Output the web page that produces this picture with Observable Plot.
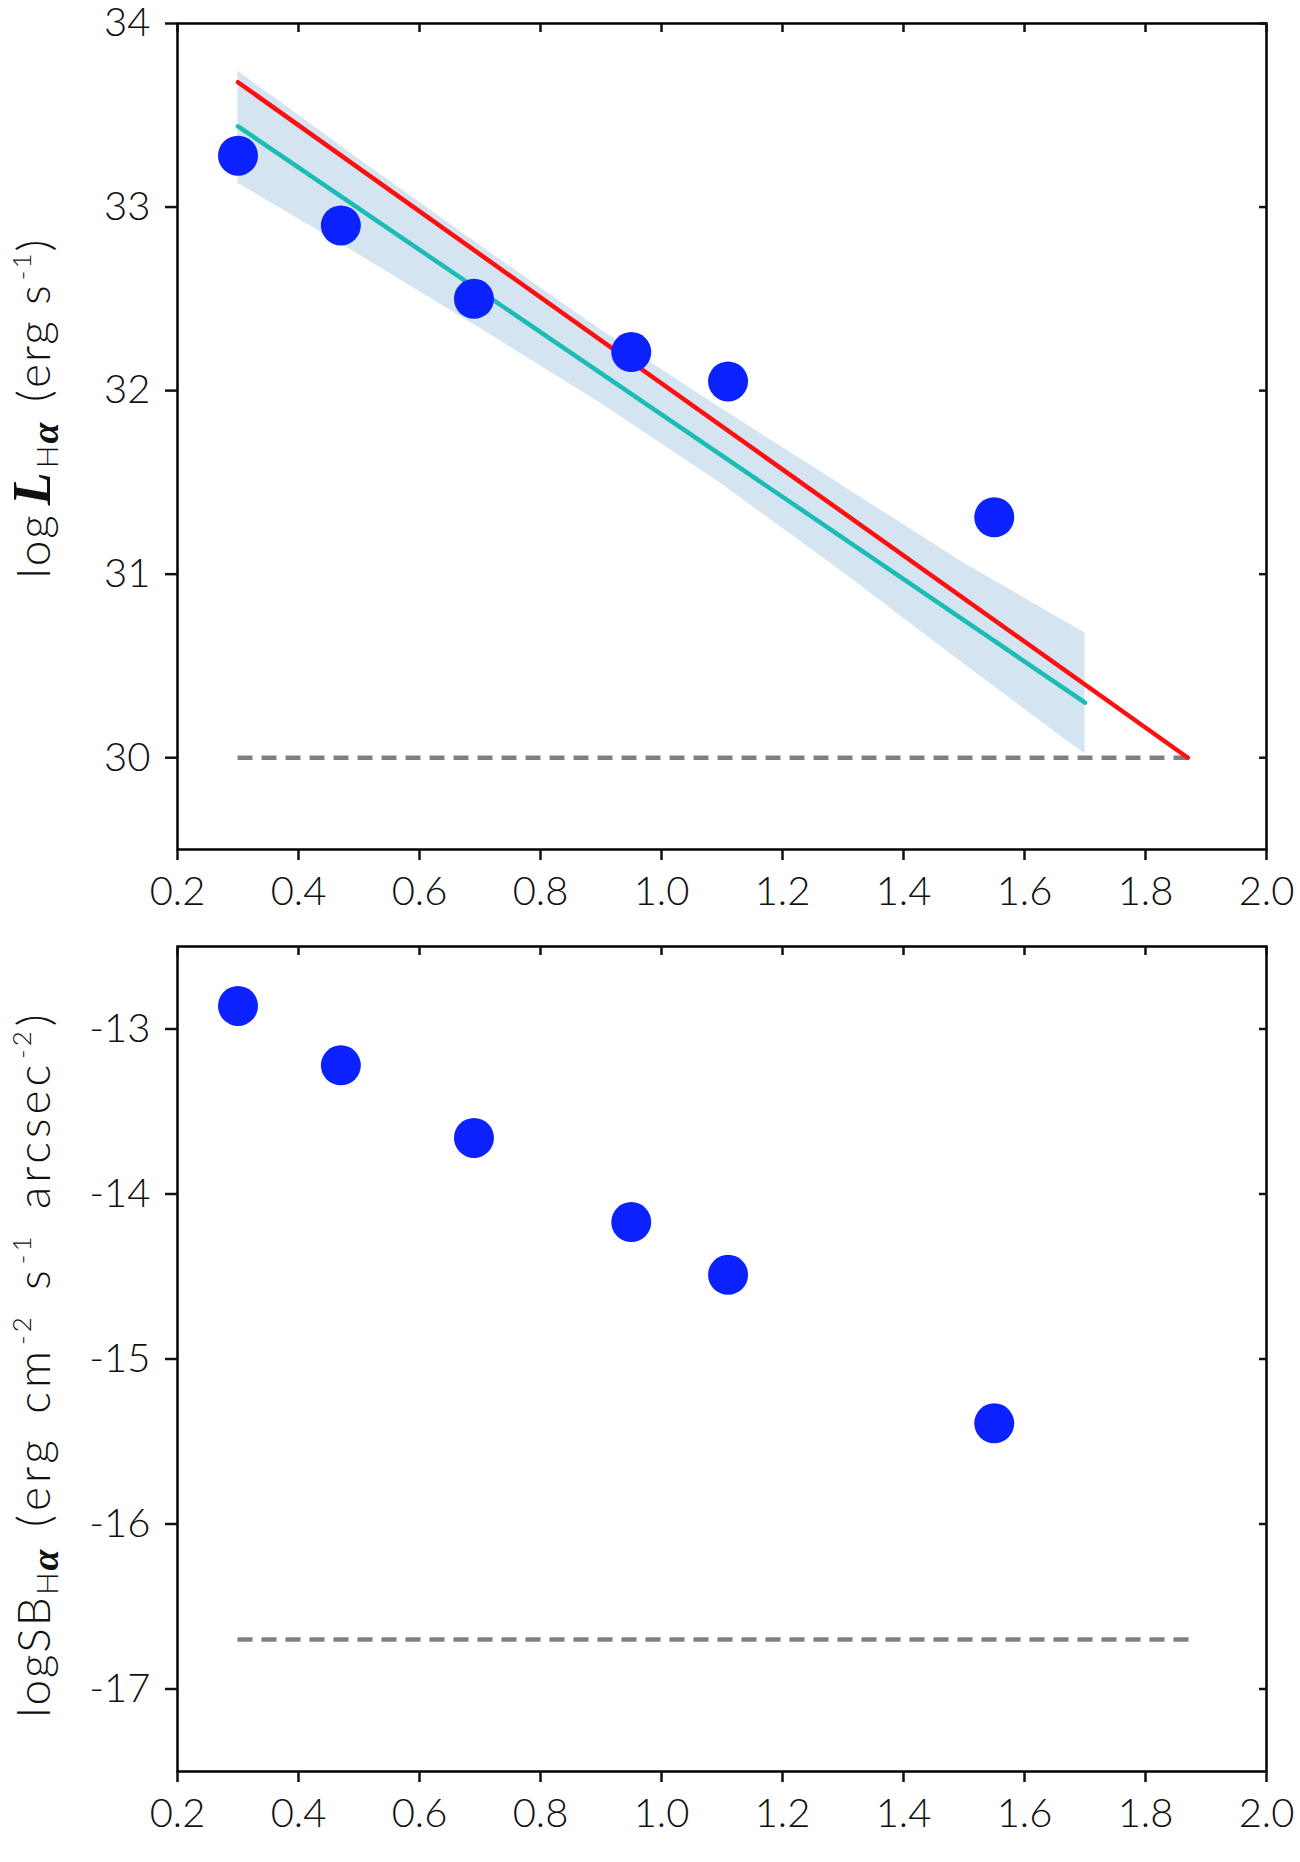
<!DOCTYPE html>
<html><head><meta charset="utf-8">
<script src="https://cdn.jsdelivr.net/npm/d3@7"></script>
<script src="https://cdn.jsdelivr.net/npm/@observablehq/plot@0.6"></script>
<style>
html,body{margin:0;padding:0;background:#fff;}
#fig{width:1300px;}
#fig svg{display:block;}
</style></head><body><div id="fig"></div>
<script>
// ---- data ----
const sepX = [0.30, 0.47, 0.69, 0.95, 1.11, 1.55];
const logL = [33.28, 32.90, 32.50, 32.21, 32.05, 31.31];
const logSB = [-12.86, -13.22, -13.66, -14.17, -14.49, -15.39];
const redX = [0.30, 1.87];
const redY = [33.68, 30.00];
const cyanX = [0.30, 1.70];
const cyanY = [33.44, 30.30];
const bandX = [0.30, 0.50, 0.70, 0.90, 1.10, 1.30, 1.50, 1.70];
const bandHi = [33.74, 33.26, 32.79, 32.33, 31.90, 31.48, 31.06, 30.68];
const bandLo = [33.13, 32.74, 32.34, 31.93, 31.49, 31.01, 30.51, 30.02];
const limitX = [0.30, 1.88];
const limitL = 30.0;
const limitSB = -16.70;
const xTicks = [0.2, 0.4, 0.6, 0.8, 1.0, 1.2, 1.4, 1.6, 1.8, 2.0];
const yTicksL = [30, 31, 32, 33, 34];
const yTicksSB = [-17, -16, -15, -14, -13];

const FONT = "Lato, 'Open Sans', sans-serif";
const MATH = "'Liberation Serif', 'DejaVu Serif', serif";
const INK = "#111";

const pts = (ys) => sepX.map((x, i) => ({x, y: ys[i]}));
const seg = (xs, ys) => xs.map((x, i) => ({x, y: ys[i]}));
const band = bandX.map((x, i) => ({x, lo: bandLo[i], hi: bandHi[i]}));

function frameMarks(yTicks) {
  return [
    Plot.frame({stroke: "black", strokeWidth: 2.5}),
    Plot.axisX(xTicks, {anchor: "bottom", tickSize: 11, tickPadding: 16, strokeWidth: 2.5,
      tickFormat: d => d.toFixed(1), fontSize: 40, fontWeight: 300, fill: INK, label: null}),
    Plot.axisX(xTicks, {anchor: "top", tickSize: -8, strokeWidth: 2.5, tickFormat: () => "", label: null}),
    Plot.axisY(yTicks, {anchor: "left", tickSize: 12, tickPadding: 15, strokeWidth: 2.5,
      tickFormat: d => String(d), fontSize: 40, fontWeight: 300, fill: INK, label: null}),
    Plot.axisY(yTicks, {anchor: "right", tickSize: -8, strokeWidth: 2.5, tickFormat: () => "", label: null})
  ];
}

function panel({height, marginTop, marginBottom, yDomain, yTicks, marks}) {
  return Plot.plot({
    width: 1300, height, marginLeft: 177, marginRight: 34, marginTop, marginBottom,
    style: {fontFamily: FONT, fontSize: "40px", fontWeight: 300, color: INK, background: "white", overflow: "visible"},
    x: {domain: [0.2, 2.0]},
    y: {domain: yDomain},
    marks: [...marks, ...frameMarks(yTicks)]
  });
}

const dash = {stroke: "#808080", strokeWidth: 4.5, strokeDasharray: "15,9"};

const topPanel = panel({
  height: 930, marginTop: 23, marginBottom: 81, yDomain: [29.5, 34], yTicks: yTicksL,
  marks: [
    Plot.areaY(band, {x: "x", y1: "lo", y2: "hi", fill: "#d4e4f1"}),
    Plot.ruleY([limitL], {x1: limitX[0], x2: limitX[1], ...dash}),
    Plot.line(seg(cyanX, cyanY), {x: "x", y: "y", stroke: "#1bbcb5", strokeWidth: 4.5}),
    Plot.line(seg(redX, redY), {x: "x", y: "y", stroke: "#ff1010", strokeWidth: 4.5}),
    Plot.dot(pts(logL), {x: "x", y: "y", r: 20, fill: "#0b22ff", stroke: null})
  ]
});

const bottomPanel = panel({
  height: 932, marginTop: 16, marginBottom: 91, yDomain: [-17.5, -12.5], yTicks: yTicksSB,
  marks: [
    Plot.ruleY([limitSB], {x1: limitX[0], x2: limitX[1], ...dash}),
    Plot.dot(pts(logSB), {x: "x", y: "y", r: 20, fill: "#0b22ff", stroke: null})
  ]
});

function addYLabel(svg, cy, spacing, parts) {
  const t = d3.select(svg).append("text")
    .attr("transform", `translate(50,${cy}) rotate(-90)`)
    .attr("text-anchor", "middle")
    .attr("fill", INK)
    .style("font-family", FONT)
    .style("font-weight", 300)
    .style("letter-spacing", spacing + "px")
    .style("font-size", "46px");
  for (const p of parts) {
    const s = t.append("tspan").text(p.t);
    if (p.f) s.style("font-family", p.f);
    if (p.s) s.style("font-size", p.s + "px");
    if (p.w) s.style("font-weight", p.w);
    if (p.i) s.style("font-style", "italic");
    if (p.ls != null) s.style("letter-spacing", p.ls + "px");
    if (p.dy) s.attr("dy", p.dy);
    if (p.dx) s.attr("dx", p.dx);
  }
}

addYLabel(topPanel, 408, 2, [
  {t: "log"},
  {t: "L", f: MATH, s: 54, w: "bold", i: true, dx: 8},
  {t: "H", s: 30, dy: 8, dx: 2},
  {t: "α", f: MATH, s: 38, w: "bold", i: true},
  {t: " (erg s", dy: -8, dx: 4},
  {t: "-1", s: 26, dy: -19, dx: 3},
  {t: ")", dy: 19}
]);

addYLabel(bottomPanel, 1365 - 930, 2, [
  {t: "logSB"},
  {t: "H", s: 30, dy: 8},
  {t: "α", f: MATH, s: 38, w: "bold", i: true},
  {t: " (erg", dy: -8, dx: 4, ls: 4},
  {t: " cm", dx: 6, ls: 4},
  {t: "-2", s: 26, dy: -19, dx: 2, ls: 3},
  {t: " s", dy: 19, dx: 8, ls: 4},
  {t: "-1", s: 26, dy: -19, dx: 2, ls: 3},
  {t: " arcsec", dy: 19, dx: 8, ls: 4},
  {t: "-2", s: 26, dy: -19, dx: 2, ls: 3},
  {t: ")", dy: 19, dx: 2}
]);

const fig = document.getElementById("fig");
fig.appendChild(topPanel);
fig.appendChild(bottomPanel);
</script>
</body></html>
